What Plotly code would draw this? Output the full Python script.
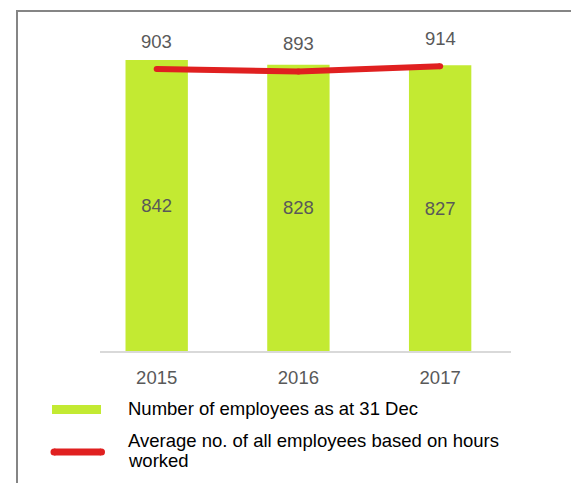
import plotly.graph_objects as go

# Data
years = ["2015", "2016", "2017"]
employees_31_dec = [842, 828, 827]
avg_employees_hours = [903, 893, 914]

legend_labels = [
    "Number of employees as at 31 Dec",
    "Average no. of all employees based on hours",
    "worked",
]

# Styling
W, H = 571, 483
ML, MR, MT, MB = 100, 60, 20, 132
PW, PH = W - ML - MR, H - MT - MB
GREEN = "#c3ea32"
RED = "#e02020"
LABEL_GREY = "#595959"
FONT = "Liberation Sans, Arial, sans-serif"
FS = 18.5


def px(x):
    return (x - ML) / PW


def py(y):
    return 1 - (y - MT) / PH


fig = go.Figure()

fig.add_trace(go.Bar(
    x=years,
    y=employees_31_dec,
    width=0.44,
    marker=dict(color=GREEN, line=dict(width=0)),
    text=[str(v) for v in employees_31_dec],
    textposition="inside",
    insidetextanchor="middle",
    textfont=dict(size=FS, color=LABEL_GREY, family=FONT),
    showlegend=False,
    hoverinfo="skip",
))

fig.add_trace(go.Scatter(
    x=years,
    y=avg_employees_hours,
    yaxis="y2",
    mode="lines+markers",
    line=dict(color=RED, width=6),
    marker=dict(color=RED, size=6),
    showlegend=False,
    hoverinfo="skip",
))

annotations = []
# category axes place annotations by category index
for i, v in enumerate(avg_employees_hours):
    annotations.append(dict(
        x=i, y=v, xref="x", yref="y2", text=str(v), showarrow=False,
        yshift=28, font=dict(size=FS, color=LABEL_GREY, family=FONT),
    ))

# Legend drawn by hand
annotations += [
    dict(x=px(126), y=py(408), xref="paper", yref="paper", text=legend_labels[0],
         showarrow=False, xanchor="left", yanchor="middle",
         font=dict(size=FS, color="#000000", family=FONT)),
    dict(x=px(126), y=py(440), xref="paper", yref="paper", text=legend_labels[1],
         showarrow=False, xanchor="left", yanchor="middle",
         font=dict(size=FS, color="#000000", family=FONT)),
    dict(x=px(126), y=py(461), xref="paper", yref="paper", text=legend_labels[2],
         showarrow=False, xanchor="left", yanchor="middle",
         font=dict(size=FS, color="#000000", family=FONT)),
]

FRAME = "#858585"
shapes = [
    # frame
    dict(type="line", xref="paper", yref="paper", x0=px(17), x1=px(17), y0=py(10), y1=py(490),
         line=dict(color=FRAME, width=2)),
    dict(type="line", xref="paper", yref="paper", x0=px(16), x1=px(580), y0=py(11), y1=py(11),
         line=dict(color=FRAME, width=2)),
    # legend keys
    dict(type="rect", xref="paper", yref="paper", x0=px(52), x1=px(101), y0=py(405), y1=py(414),
         fillcolor=GREEN, line=dict(width=0)),
    dict(type="line", xref="paper", yref="paper", x0=px(54), x1=px(101), y0=py(452), y1=py(452),
         line=dict(color=RED, width=7)),
    dict(type="circle", xref="paper", yref="paper", x0=px(50.5), x1=px(57.5), y0=py(448.5), y1=py(455.5),
         fillcolor=RED, line=dict(width=0)),
    dict(type="circle", xref="paper", yref="paper", x0=px(98), x1=px(105), y0=py(448.5), y1=py(455.5),
         fillcolor=RED, line=dict(width=0)),
]

fig.update_layout(
    width=W, height=H,
    margin=dict(l=ML, r=MR, t=MT, b=MB, pad=0),
    paper_bgcolor="white", plot_bgcolor="white",
    font=dict(family=FONT, size=FS, color=LABEL_GREY),
    xaxis=dict(
        type="category", range=[-0.4, 2.5],
        showline=True, linecolor="#d9d9d9", linewidth=1.5,
        showgrid=False, zeroline=False, ticks="",
        tickfont=dict(size=FS, color=LABEL_GREY, family=FONT),
        ticklabelstandoff=9,
    ),
    yaxis=dict(range=[0, PH / 0.3456], visible=False, showgrid=False, zeroline=False),
    yaxis2=dict(range=[903 - (MT + PH - 69) / 0.24, 903 - (MT + PH - 69) / 0.24 + PH / 0.24],
                overlaying="y", visible=False, showgrid=False, zeroline=False),
    annotations=annotations,
    shapes=shapes,
)

fig.write_html("out.html")
